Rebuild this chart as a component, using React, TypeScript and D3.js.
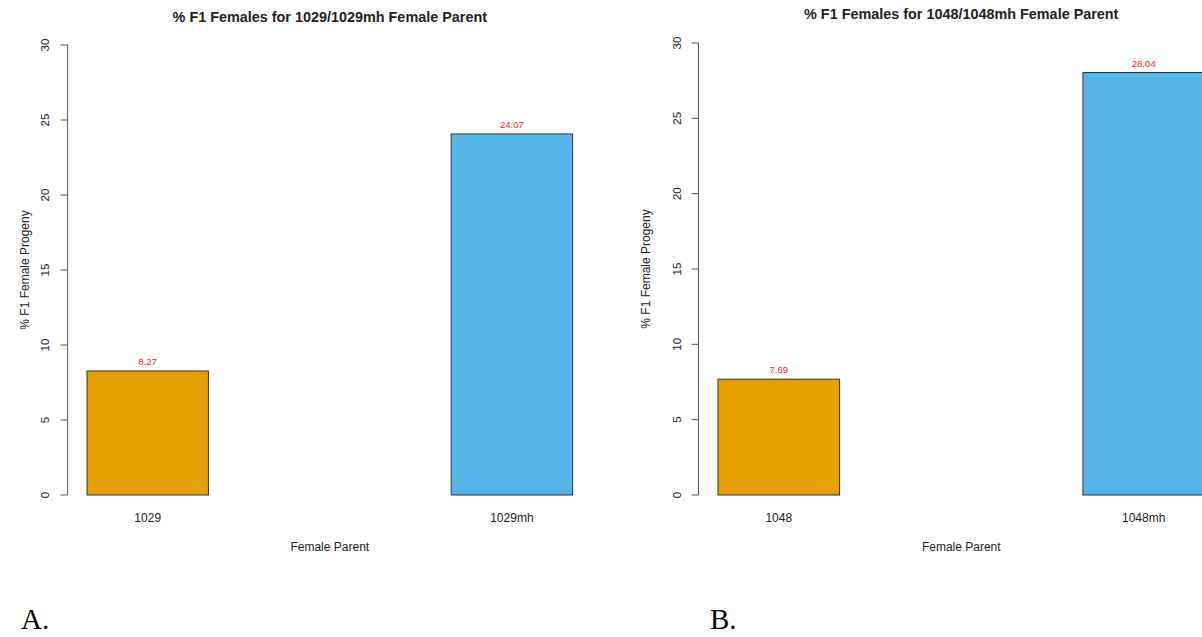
import React from "react";
import * as d3 from "d3";

// two R-style barplots side by side, the right one cropped at the page edge

const panelA_categories = ["1029", "1029mh"];
const panelA_values = [8.27, 24.07];
const panelA_title = "% F1 Females for 1029/1029mh Female Parent";

const panelB_categories = ["1048", "1048mh"];
const panelB_values = [7.69, 28.04];
const panelB_title = "% F1 Females for 1048/1048mh Female Parent";

const barColors = ["#E69F00", "#56B4E9"];
const yTicks = [0, 5, 10, 15, 20, 25, 30];
const yLabel = "% F1 Female Progeny";
const xLabel = "Female Parent";

const FONT = "'Liberation Sans', Arial, Helvetica, sans-serif";
const TEXT = "#222";

type PanelProps = {
  title: string;
  cats: string[];
  vals: number[];
  left: number;
  right: number;
  top: number;
  bottom: number;
  titleY: number;
  yLabX: number;
  tickLabX: number;
};

function BarPanel({ title, cats, vals, left, right, top, bottom, titleY, yLabX, tickLabX }: PanelProps) {
  // R barplot: width 1, space 2 -> bars start at 2, 5; xlim padded by 4%
  const space = 2;
  const x = d3.scaleLinear().domain([1.84, 6.16]).range([left, right]);
  const y = d3.scaleLinear().domain([0, 30]).range([bottom, top]);
  const cx = (left + right) / 2;
  const midY = (y(0) + y(30)) / 2;

  return (
    <g fontFamily={FONT}>
      <text x={cx} y={titleY} textAnchor="middle" fontWeight="bold" fontSize={14.4} fill={TEXT}>
        {title}
      </text>

      {vals.map((v, i) => {
        const x0 = space + i * (1 + space);
        return (
          <g key={cats[i]}>
            <rect
              x={x(x0)}
              y={y(v)}
              width={x(x0 + 1) - x(x0)}
              height={y(0) - y(v)}
              fill={barColors[i]}
              stroke="#333"
              strokeWidth={1}
            />
            <text x={x(x0 + 0.5)} y={y(v) - 6} textAnchor="middle" fontSize={9.6} fill="#ff2020">
              {v.toFixed(2)}
            </text>
            <text x={x(x0 + 0.5)} y={522} textAnchor="middle" fontSize={12} fill={TEXT}>
              {cats[i]}
            </text>
          </g>
        );
      })}

      {/* y axis */}
      <line x1={left} x2={left} y1={y(0)} y2={y(30)} stroke="#555" strokeWidth={1} />
      {yTicks.map((t) => (
        <g key={t}>
          <line x1={left - 7} x2={left} y1={y(t)} y2={y(t)} stroke="#555" strokeWidth={1} />
          <text
            transform={`translate(${tickLabX},${y(t)}) rotate(-90)`}
            textAnchor="middle"
            dominantBaseline="central"
            fontSize={11.5}
            fill={TEXT}
          >
            {t}
          </text>
        </g>
      ))}

      <text
        transform={`translate(${yLabX},${midY}) rotate(-90)`}
        textAnchor="middle"
        dominantBaseline="central"
        fontSize={12}
        fill={TEXT}
      >
        {yLabel}
      </text>
      <text x={cx} y={551} textAnchor="middle" fontSize={12} fill={TEXT}>
        {xLabel}
      </text>
    </g>
  );
}

export default function App() {
  return (
    <div style={{ position: "absolute", left: 0, top: 0 }}>
      <svg width={1202} height={637} style={{ display: "block", background: "#fff" }}>
        <BarPanel
          title={panelA_title}
          cats={panelA_categories}
          vals={panelA_values}
          left={67.6}
          right={592}
          top={45}
          bottom={495}
          titleY={22}
          yLabX={25}
          tickLabX={44.5}
        />
        <BarPanel
          title={panelB_title}
          cats={panelB_categories}
          vals={panelB_values}
          left={698.5}
          right={1224}
          top={43}
          bottom={495}
          titleY={19}
          yLabX={646}
          tickLabX={677}
        />
        <text x={21} y={629} fontFamily="'Liberation Serif', 'Times New Roman', serif" fontSize={29} fill="#000">
          A.
        </text>
        <text x={710} y={629} fontFamily="'Liberation Serif', 'Times New Roman', serif" fontSize={29} fill="#000">
          B.
        </text>
      </svg>
    </div>
  );
}
